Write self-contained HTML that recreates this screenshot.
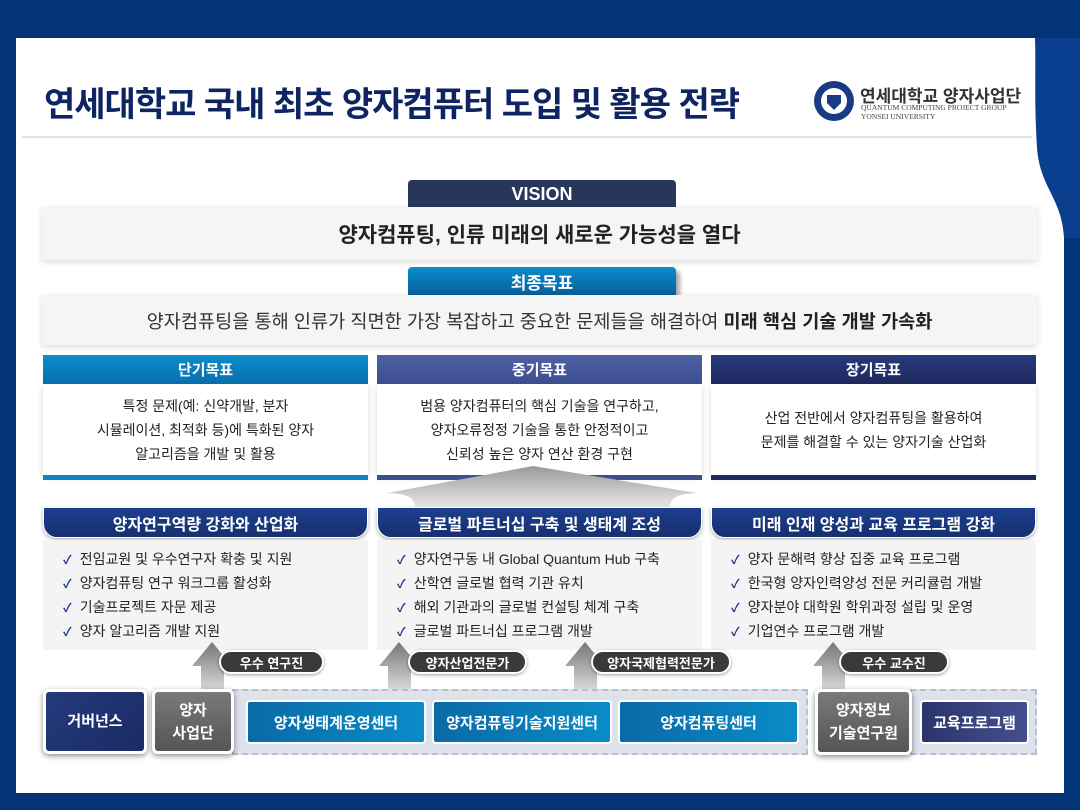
<!DOCTYPE html>
<html><head><meta charset="utf-8"><style>
*{margin:0;padding:0;box-sizing:border-box}
body{width:1080px;height:810px;background:#033478;position:relative;overflow:hidden;font-family:"Liberation Sans","Noto Sans CJK KR",sans-serif}
.a{position:absolute}
.c{display:flex;align-items:center;justify-content:center;text-align:center}
.panel{left:16px;top:38px;width:1048px;height:755px;background:#fff}
.hdr{color:#fff;font-weight:bold;font-size:15px}
.body{background:#fff;color:#222;font-size:14px;line-height:24px;box-shadow:0 2px 6px rgba(0,0,0,.15)}
.sec{height:31px;border-radius:0 0 14px 14px;background:linear-gradient(#1d3f8e,#16306e);color:#fff;font-weight:bold;font-size:16px;border:1px solid #fff;box-shadow:0 2px 4px rgba(0,0,0,.3)}
.list{background:#f4f4f4;top:540px;height:110px;padding:7px 0 0 20px}
.list div{font-size:14px;color:#222;height:24px;line-height:24px}
.list div:before{content:"✓";color:#1d3a8a;font-size:12px;margin-right:8px;font-weight:bold}
.pill{top:650px;height:24px;border-radius:12px;background:#3a3a3a;color:#fff;font-size:13px;font-weight:bold;border:2px solid #fff;box-shadow:0 1px 3px rgba(0,0,0,.4)}
.bx{border:3px solid #fff;border-radius:6px;color:#fff;font-weight:bold;font-size:15px;box-shadow:0 2px 6px rgba(0,0,0,.45);line-height:23px}
.blue{top:700px;height:44px;border:2px solid #fff;border-radius:4px;background:linear-gradient(90deg,#0a6aa6,#0a8cc8);color:#fff;font-weight:bold;font-size:15px}
.dash{top:689px;height:66px;background:#dde1ea;border:2px dashed #b9bec9}
</style></head><body>
<div class="a panel"></div>
<svg class="a" style="left:1000px;top:38px" width="80" height="200"><path d="M35 0 H80 V200 H64 C62 160 40 150 37 110 C34 60 36 30 35 0Z" fill="#0a3f8f"/></svg>
<div class="a" style="left:44px;top:77px;font-size:34px;font-weight:bold;color:#0f2462;letter-spacing:-1px">연세대학교 국내 최초 양자컴퓨터 도입 및 활용 전략</div>
<div class="a" style="left:22px;top:136px;width:1010px;height:2px;background:#e3e3e3"></div>
<svg class="a" style="left:813px;top:80px" width="42" height="42"><circle cx="21" cy="21" r="20" fill="#1b3a84"/><circle cx="21" cy="21" r="13" fill="#fff"/><path d="M14 15h14v8l-7 7-7-7z" fill="#1b3a84"/></svg>
<div class="a" style="left:860px;top:82px;font-size:17px;font-weight:bold;color:#333">연세대학교 양자사업단</div>
<div class="a" style="left:861px;top:103px;font-size:7.5px;color:#444;font-family:'Liberation Serif',serif;line-height:9px">QUANTUM COMPUTING PROJECT GROUP<br>YONSEI UNIVERSITY</div>

<div class="a c" style="left:408px;top:180px;width:268px;height:28px;background:#28365a;border-radius:4px 4px 0 0;color:#fff;font-weight:bold;font-size:18px">VISION</div>
<div class="a c" style="left:42px;top:207px;width:995px;height:53px;background:#f5f5f5;box-shadow:0 2px 6px rgba(0,0,0,.15);font-size:21px;font-weight:bold;color:#222">양자컴퓨팅, 인류 미래의 새로운 가능성을 열다</div>
<div class="a c" style="left:408px;top:267px;width:268px;height:28px;background:linear-gradient(#0a8ccc,#085f9a);border-radius:4px 4px 0 0;color:#fff;font-weight:bold;font-size:17px;box-shadow:4px 4px 5px rgba(0,0,0,.35)">최종목표</div>
<div class="a c" style="left:42px;top:295px;width:995px;height:50px;background:#f5f5f5;box-shadow:0 2px 6px rgba(0,0,0,.15);font-size:18.6px;color:#333">양자컴퓨팅을 통해 인류가 직면한 가장 복잡하고 중요한 문제들을 해결하여&nbsp;<b style="color:#222">미래 핵심 기술 개발 가속화</b></div>

<div class="a c hdr" style="left:43px;top:355px;width:325px;height:29px;background:linear-gradient(#0a8dc8,#0a6fae)">단기목표</div>
<div class="a c body" style="left:43px;top:384px;width:325px;height:91px">특정 문제(예: 신약개발, 분자<br>시뮬레이션, 최적화 등)에 특화된 양자<br>알고리즘을 개발 및 활용</div>
<div class="a" style="left:43px;top:475px;width:325px;height:5px;background:#0a86c0"></div>
<div class="a c hdr" style="left:377px;top:355px;width:325px;height:29px;background:linear-gradient(#4f61a4,#3d4f90)">중기목표</div>
<div class="a c body" style="left:377px;top:384px;width:325px;height:91px">범용 양자컴퓨터의 핵심 기술을 연구하고,<br>양자오류정정 기술을 통한 안정적이고<br>신뢰성 높은 양자 연산 환경 구현</div>
<div class="a" style="left:377px;top:475px;width:325px;height:5px;background:#3d4f90"></div>
<div class="a c hdr" style="left:711px;top:355px;width:325px;height:29px;background:linear-gradient(#283a7c,#1f2a5e)">장기목표</div>
<div class="a c body" style="left:711px;top:384px;width:325px;height:91px">산업 전반에서 양자컴퓨팅을 활용하여<br>문제를 해결할 수 있는 양자기술 산업화</div>
<div class="a" style="left:711px;top:475px;width:325px;height:5px;background:#1f2a5e"></div>
<svg class="a" style="left:385px;top:464px" width="315" height="46"><defs><linearGradient id="g" x1="0" y1="0" x2="0" y2="1"><stop offset="0" stop-color="#999"/><stop offset="1" stop-color="#eee"/></linearGradient></defs><path d="M148 2 L312 29 C290 30 285 34 285 46 H30 C30 34 25 30 2 29Z" fill="url(#g)"/></svg>

<div class="a c sec" style="left:43px;top:507px;width:325px">양자연구역량 강화와 산업화</div>
<div class="a c sec" style="left:377px;top:507px;width:325px">글로벌 파트너십 구축 및 생태계 조성</div>
<div class="a c sec" style="left:711px;top:507px;width:325px">미래 인재 양성과 교육 프로그램 강화</div>
<div class="a list" style="left:43px;width:325px"><div>전임교원 및 우수연구자 확충 및 지원</div><div>양자컴퓨팅 연구 워크그룹 활성화</div><div>기술프로젝트 자문 제공</div><div>양자 알고리즘 개발 지원</div></div>
<div class="a list" style="left:377px;width:325px"><div>양자연구동 내 Global Quantum Hub 구축</div><div>산학연 글로벌 협력 기관 유치</div><div>해외 기관과의 글로벌 컨설팅 체계 구축</div><div>글로벌 파트너십 프로그램 개발</div></div>
<div class="a list" style="left:711px;width:325px"><div>양자 문해력 향상 집중 교육 프로그램</div><div>한국형 양자인력양성 전문 커리큘럼 개발</div><div>양자분야 대학원 학위과정 설립 및 운영</div><div>기업연수 프로그램 개발</div></div>

<svg class="a" style="left:0;top:640px" width="1080" height="52"><defs><linearGradient id="h" x1="0" y1="0" x2="0" y2="1"><stop offset="0" stop-color="#777"/><stop offset="1" stop-color="#ddd"/></linearGradient></defs>
<path d="M212 2 L232 26 H224 V52 H201 V26 H192Z" fill="url(#h)"/>
<path d="M399 2 L419 26 H411 V52 H388 V26 H379Z" fill="url(#h)"/>
<path d="M585 2 L605 26 H597 V52 H574 V26 H565Z" fill="url(#h)"/>
<path d="M833 2 L853 26 H845 V52 H822 V26 H813Z" fill="url(#h)"/></svg>
<div class="a c pill" style="left:219px;width:105px">우수 연구진</div>
<div class="a c pill" style="left:408px;width:119px">양자산업전문가</div>
<div class="a c pill" style="left:591px;width:140px">양자국제협력전문가</div>
<div class="a c pill" style="left:839px;width:110px">우수 교수진</div>

<div class="a dash" style="left:232px;width:576px"></div>
<div class="a dash" style="left:910px;width:127px"></div>
<div class="a c bx" style="left:43px;top:689px;width:104px;height:65px;background:linear-gradient(135deg,#243a7c,#1a2b64)">거버넌스</div>
<div class="a c bx" style="left:152px;top:689px;width:82px;height:65px;background:linear-gradient(#7a7a7a,#555)">양자<br>사업단</div>
<div class="a c blue" style="left:246px;width:180px">양자생태계운영센터</div>
<div class="a c blue" style="left:432px;width:180px">양자컴퓨팅기술지원센터</div>
<div class="a c blue" style="left:618px;width:181px">양자컴퓨팅센터</div>
<div class="a c bx" style="left:815px;top:689px;width:97px;height:66px;background:linear-gradient(#7a7a7a,#555)">양자정보<br>기술연구원</div>
<div class="a c blue" style="left:920px;width:109px;background:linear-gradient(90deg,#2a346e,#44508e)">교육프로그램</div>
</body></html>
